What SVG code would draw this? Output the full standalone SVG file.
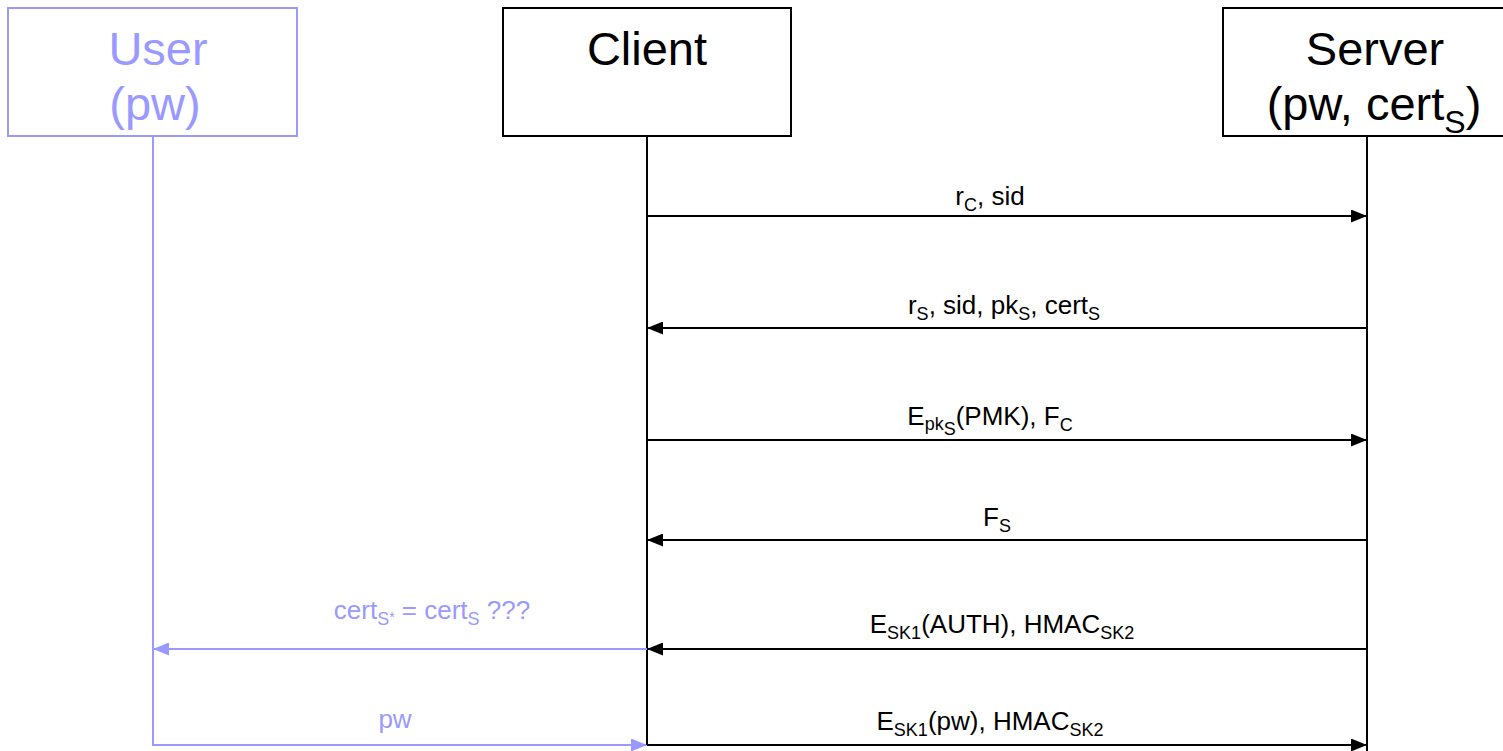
<svg xmlns="http://www.w3.org/2000/svg" width="1503" height="751" viewBox="0 0 1503 751">
<style>
text{font-family:"Liberation Sans",Arial,sans-serif;}
.t{font-size:47px;text-anchor:middle;}
.l{font-size:26px;text-anchor:middle;}
.s{font-size:18px;}
.k{fill:#000;}
.b{fill:#9999ff;}
.box{fill:#fff;stroke-width:2;}
.bk{stroke:#000;}
.bl{stroke:#9999ff;}
.ln{fill:none;stroke-width:2;}
</style>
<defs>
<marker id="ak" markerWidth="17" markerHeight="13" refX="16" refY="6.5" orient="auto" markerUnits="userSpaceOnUse"><path d="M0,0 L16,6.5 L0,13 Z" fill="#000"/></marker>
<marker id="ab" markerWidth="17" markerHeight="13" refX="16" refY="6.5" orient="auto" markerUnits="userSpaceOnUse"><path d="M0,0 L16,6.5 L0,13 Z" fill="#9999ff"/></marker>
</defs>
<g id="user">
<rect class="box bl" x="8" y="8" width="289" height="128"/>
<text class="t b" x="158" y="65">User</text>
<text class="t b" x="155" y="120">(pw)</text>
</g>
<g id="client">
<rect class="box bk" x="503" y="8" width="288" height="128"/>
<text class="t k" x="647" y="65">Client</text>
</g>
<g id="server">
<rect class="box bk" x="1223" y="8" width="290" height="128"/>
<text class="t k" x="1375" y="65">Server</text>
<text class="t k" x="1374" y="120">(pw, cert<tspan font-size="32" dy="13">S</tspan><tspan dy="-13">)</tspan></text>
</g>
<g id="connectors">
<path class="ln bl" d="M153,136 V745 H647" marker-end="url(#ab)"/>
<path class="ln bk" d="M647,136 V745"/>
<path class="ln bk" d="M1367,136 V751"/>
<path class="ln bk" d="M647,216 H1367" marker-end="url(#ak)"/>
<path class="ln bk" d="M1367,328 H647" marker-end="url(#ak)"/>
<path class="ln bk" d="M647,440 H1367" marker-end="url(#ak)"/>
<path class="ln bk" d="M1367,540 H647" marker-end="url(#ak)"/>
<path class="ln bk" d="M1367,649 H647" marker-end="url(#ak)"/>
<path class="ln bl" d="M647,649 H153" marker-end="url(#ab)"/>
<path class="ln bk" d="M647,745 H1367" marker-end="url(#ak)"/>
</g>
<g id="labels">
<text class="l k" x="990" y="205">r<tspan class="s" dy="6">C</tspan><tspan dy="-6">, sid</tspan></text>
<text class="l k" x="1004" y="314">r<tspan class="s" dy="6">S</tspan><tspan dy="-6">, sid, pk</tspan><tspan class="s" dy="6">S</tspan><tspan dy="-6">, cert</tspan><tspan class="s" dy="6">S</tspan></text>
<text class="l k" x="990" y="425">E<tspan class="s" dy="5">pk</tspan><tspan class="s" dy="5">S</tspan><tspan dy="-10">(PMK), F</tspan><tspan class="s" dy="6">C</tspan></text>
<text class="l k" x="997" y="526">F<tspan class="s" dy="6">S</tspan></text>
<text class="l k" x="1002" y="633">E<tspan class="s" dy="6">SK1</tspan><tspan dy="-6">(AUTH), HMAC</tspan><tspan class="s" dy="6">SK2</tspan></text>
<text class="l k" x="990" y="730">E<tspan class="s" dy="6">SK1</tspan><tspan dy="-6">(pw), HMAC</tspan><tspan class="s" dy="6">SK2</tspan></text>
<text class="l b" x="432" y="619">cert<tspan class="s" dy="6">S</tspan><tspan font-size="14" dy="-3">*</tspan><tspan dy="-3"> = cert</tspan><tspan class="s" dy="6">S</tspan><tspan dy="-6"> ???</tspan></text>
<text class="l b" x="395" y="728">pw</text>
</g>
</svg>
